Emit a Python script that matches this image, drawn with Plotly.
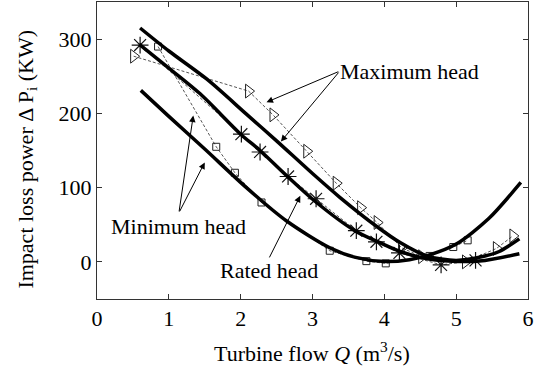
import plotly.graph_objects as go

# ---- data ----
max_pts_q = [0.51, 2.11, 2.45, 2.92, 3.33, 3.67, 3.90, 4.24, 4.52, 5.13, 5.56, 5.79]
max_pts_p = [277, 230, 198, 149, 106, 73, 53, 19, 7, 0, 18, 35]

rated_pts_q = [0.60, 2.01, 2.27, 2.66, 3.05, 3.61, 3.89, 4.21, 4.79, 5.27]
rated_pts_p = [292, 172, 148, 115, 85, 42, 27, 12, -4, 2]

min_pts_q = [0.85, 1.66, 1.92, 2.29, 3.24, 3.75, 4.02, 4.63, 4.96, 5.16]
min_pts_p = [290, 155, 120, 80, 15, 1, -2, 8, 20, 29]

max_fit_q = [0.60, 1.00, 1.53, 2.08, 2.50, 3.00, 3.38, 3.89, 4.22, 4.59, 5.00, 5.40, 5.60, 5.88]
max_fit_p = [315, 284, 246, 199, 163, 119, 87, 48, 26, 8, 2, 8, 14, 31]

rated_fit_q = [0.59, 1.00, 1.44, 2.00, 2.27, 2.64, 3.03, 3.59, 3.89, 4.22, 4.60, 5.00, 5.40, 5.88]
rated_fit_p = [293, 261, 226, 172, 150, 116, 82, 42, 28, 14, 4, 0.5, 2, 11]

min_fit_q = [0.61, 1.00, 1.50, 2.08, 2.64, 3.24, 3.60, 4.00, 4.35, 4.65, 5.00, 5.45, 5.90]
min_fit_p = [231, 196, 152, 100, 55, 19, 6, 0.5, 3, 10, 24, 58, 107]

x_ticks = [0, 1, 2, 3, 4, 5, 6]
y_ticks = [0, 100, 200, 300]

FONT = '"Liberation Serif", "Times New Roman", Times, serif'

fig = go.Figure()

dash_line = dict(color="#555555", width=1, dash="3px,2px")
fig.add_trace(go.Scatter(x=max_pts_q, y=max_pts_p, mode="lines+markers", line=dash_line,
                         marker=dict(symbol="triangle-right-open", size=12, color="#222222",
                                     line=dict(width=1, color="#222222"))))
fig.add_trace(go.Scatter(x=rated_pts_q, y=rated_pts_p, mode="lines+markers", line=dash_line,
                         marker=dict(symbol="asterisk-open", size=14, color="#111111",
                                     line=dict(width=1.2, color="#111111"))))
fig.add_trace(go.Scatter(x=min_pts_q, y=min_pts_p, mode="lines+markers", line=dash_line,
                         marker=dict(symbol="square-open", size=7, color="#222222",
                                     line=dict(width=1, color="#222222"))))

thick = dict(color="black", width=3.5, shape="spline", smoothing=0.8)
for qq, pp in [(max_fit_q, max_fit_p), (rated_fit_q, rated_fit_p), (min_fit_q, min_fit_p)]:
    fig.add_trace(go.Scatter(x=qq, y=pp, mode="lines", line=thick))

# text labels with arrows
def arrow(tail, tip):
    fig.add_annotation(x=tip[0], y=tip[1], ax=tail[0], ay=tail[1], xref="x", yref="y",
                       axref="x", ayref="y", text="", showarrow=True, arrowhead=2,
                       arrowsize=1.3, arrowwidth=1, arrowcolor="black")

arrow((3.38, 257), (2.36, 215))
arrow((3.38, 257), (2.56, 162))
arrow((1.14, 66), (1.34, 197))
arrow((1.14, 66), (1.50, 134))
arrow((2.39, 4), (2.83, 89))

lab_font = dict(family=FONT, size=22, color="black")
fig.add_annotation(x=3.35, y=257, xref="x", yref="y", text="Maximum head", showarrow=False,
                   xanchor="left", yanchor="middle", font=lab_font)
fig.add_annotation(x=1.14, y=48, xref="x", yref="y", text="Minimum head", showarrow=False,
                   xanchor="center", yanchor="middle", font=lab_font)
fig.add_annotation(x=2.40, y=-12, xref="x", yref="y", text="Rated head", showarrow=False,
                   xanchor="center", yanchor="middle", font=lab_font)

# axis titles
fig.add_annotation(x=0.498, y=-0.178, xref="paper", yref="paper",
                   text="Turbine flow <i>Q</i> (m<sup>3</sup>/s)", showarrow=False,
                   xanchor="center", yanchor="middle", font=lab_font)
fig.add_annotation(x=-0.162, y=0.47, xref="paper", yref="paper",
                   text="Impact loss power Δ P<sub>i</sub> (KW)", showarrow=False,
                   textangle=-90, xanchor="center", yanchor="middle", font=lab_font)

axis_common = dict(showline=True, linecolor="#333333", linewidth=1, mirror="ticks",
                   ticks="inside", ticklen=5, tickcolor="#333333", showgrid=False,
                   zeroline=False, ticklabeloverflow="allow",
                   tickfont=dict(family=FONT, size=22, color="black"))

fig.update_xaxes(range=[0, 6], tickvals=x_ticks, ticktext=[str(v) for v in x_ticks],
                 **axis_common)
fig.update_yaxes(range=[-50, 350], tickvals=y_ticks, ticktext=[str(v) for v in y_ticks],
                 **axis_common)

fig.update_layout(width=538, height=374, showlegend=False,
                  margin=dict(l=97, r=10, t=2, b=75),
                  plot_bgcolor="white", paper_bgcolor="white",
                  font=dict(family=FONT, size=22, color="black"))

fig.write_html("out.html", config={"displayModeBar": False},
               post_script="document.body.style.margin='0';")
